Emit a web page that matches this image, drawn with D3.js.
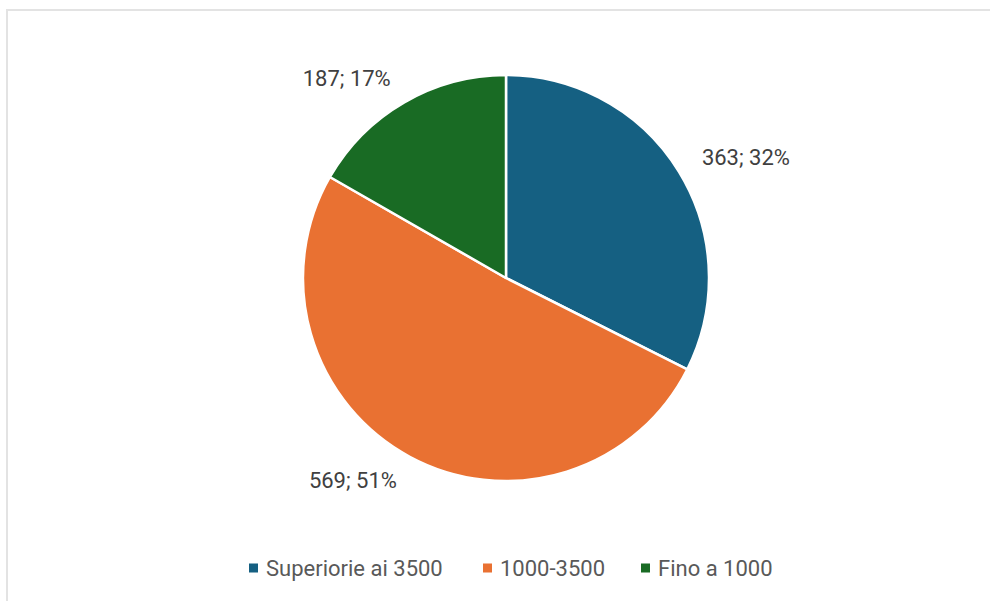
<!DOCTYPE html>
<html><head><meta charset="utf-8">
<script src="https://cdn.jsdelivr.net/npm/d3@7"></script>
<style>html,body{margin:0;padding:0;background:#fff;}svg{display:block;}</style>
</head><body>
<script>
const categories = ["Superiorie ai 3500", "1000-3500", "Fino a 1000"];
const values = [363, 569, 187];
const percents = ["32%", "51%", "17%"];
const colors = ["#156082", "#E97132", "#196B24"];

const W = 990, H = 601;
const cx = 506, cy = 278, R = 203;
const svg = d3.select("body").append("svg").attr("width", W).attr("height", H);

svg.append("path").attr("d", `M7,601 L7,10 L990,10`).attr("fill", "none")
  .attr("stroke", "#e3e3e3").attr("stroke-width", 2);

const pie = d3.pie().sort(null).value(d => d.v);
const data = categories.map((c, i) => ({c, v: values[i], p: percents[i], col: colors[i]}));
const arcs = pie(data);
const arc = d3.arc().innerRadius(0).outerRadius(R);
const g = svg.append("g").attr("transform", `translate(${cx},${cy})`);
g.selectAll("path").data(arcs).join("path")
  .attr("d", arc).attr("fill", d => d.data.col)
  .attr("stroke", "#fff").attr("stroke-width", 2.5).attr("stroke-linejoin", "round");

const LR = 230;
g.selectAll("text.lbl").data(arcs).join("text").attr("class", "lbl")
  .each(function(d) {
    const a = (d.startAngle + d.endAngle) / 2;
    const x = LR * Math.sin(a), y = -LR * Math.cos(a);
    d3.select(this).attr("x", x).attr("y", y)
      .attr("text-anchor", x >= 0 ? "start" : "end");
  })
  .attr("dominant-baseline", "central")
  .attr("font-family", "Roboto, 'Liberation Sans', sans-serif")
  .attr("font-size", 22).attr("fill", "#404040")
  .text(d => `${d.data.v}; ${d.data.p}`);

// legend
const legX = [249, 483, 641];
const lg = svg.append("g");
const items = lg.selectAll("g").data(data).join("g")
  .attr("transform", (d, i) => `translate(${legX[i]},568)`);
items.append("rect").attr("x", 0).attr("y", -4.5).attr("width", 9).attr("height", 9).attr("fill", d => d.col);
items.append("text").attr("x", 17).attr("y", 0).attr("dominant-baseline", "central")
  .attr("font-family", "Roboto, 'Liberation Sans', sans-serif")
  .attr("font-size", 22).attr("fill", "#595959").text(d => d.c);
</script>
</body></html>
